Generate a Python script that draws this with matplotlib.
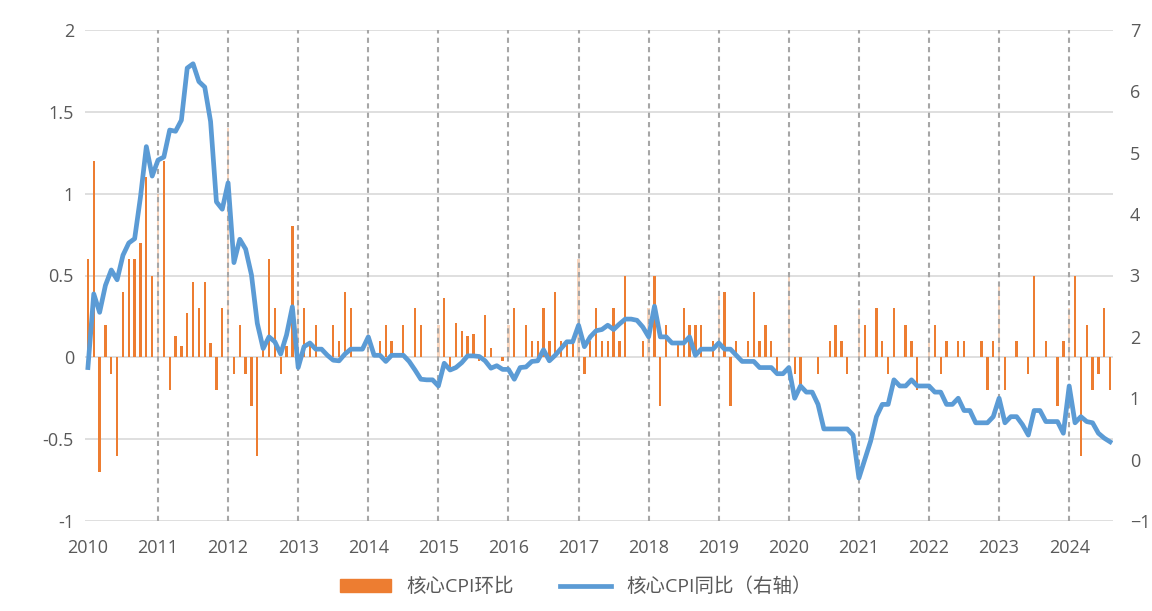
import numpy as np
import matplotlib.pyplot as plt
from matplotlib.patches import Patch
from matplotlib.lines import Line2D
from matplotlib.colors import to_rgba
from matplotlib.ticker import FuncFormatter

plt.rcParams['font.family'] = ['Open Sans', 'Noto Sans CJK SC', 'DejaVu Sans']

# monthly data, 2010-01 .. 2024-08
years = list(range(2010, 2025))

# core CPI month-on-month (left axis)
mom = [
    0.6, 1.2, -0.7, 0.2, -0.1, -0.6, 0.4, 0.6, 0.6, 0.7, 1.1, 0.5,        # 2010
    1.0, 1.2, -0.2, 0.13, 0.07, 0.27, 0.46, 0.3, 0.46, 0.09, -0.2, 0.3,   # 2011
    1.4, -0.1, 0.2, -0.1, -0.3, -0.6, 0.05, 0.6, 0.3, -0.1, 0.07, 0.8,    # 2012
    0.4, 0.3, 0.1, 0.2, 0.0, 0.0, 0.2, 0.1, 0.4, 0.3, 0.0, 0.0,           # 2013
    0.15, 0.0, 0.1, 0.2, 0.1, 0.0, 0.2, 0.0, 0.3, 0.2, 0.0, 0.0,          # 2014
    0.2, 0.36, -0.06, 0.21, 0.16, 0.13, 0.14, -0.02, 0.26, 0.06, 0.0, -0.02,  # 2015
    0.2, 0.3, 0.0, 0.2, 0.1, 0.1, 0.3, 0.1, 0.4, 0.1, 0.1, 0.1,           # 2016
    0.6, -0.1, 0.1, 0.3, 0.1, 0.1, 0.3, 0.1, 0.5, 0.0, 0.0, 0.1,          # 2017
    0.3, 0.5, -0.3, 0.2, 0.0, 0.1, 0.3, 0.2, 0.2, 0.2, 0.0, 0.1,          # 2018
    0.4, 0.4, -0.3, 0.1, 0.0, 0.1, 0.4, 0.1, 0.2, 0.1, -0.1, 0.0,         # 2019
    0.5, -0.1, -0.2, 0.0, 0.0, -0.1, 0.0, 0.1, 0.2, 0.1, -0.1, 0.0,       # 2020
    0.3, 0.2, 0.0, 0.3, 0.1, -0.1, 0.3, 0.0, 0.2, 0.1, -0.2, 0.0,         # 2021
    0.1, 0.2, -0.1, 0.1, 0.0, 0.1, 0.1, 0.0, 0.0, 0.1, -0.2, 0.1,         # 2022
    0.45, -0.2, 0.0, 0.1, 0.0, -0.1, 0.5, 0.0, 0.1, 0.0, -0.3, 0.1,       # 2023
    0.3, 0.5, -0.6, 0.2, -0.2, -0.1, 0.3, -0.2,                           # 2024
]

# core CPI year-on-year (right axis)
yoy = [
    1.5, 2.7, 2.4, 2.84, 3.09, 2.93, 3.33, 3.53, 3.6, 4.28, 5.1, 4.62,    # 2010
    4.88, 4.93, 5.37, 5.35, 5.53, 6.38, 6.45, 6.16, 6.07, 5.51, 4.2, 4.08,  # 2011
    4.51, 3.21, 3.59, 3.43, 3.01, 2.22, 1.81, 2.0, 1.92, 1.72, 2.03, 2.49,  # 2012
    1.5, 1.84, 1.9, 1.8, 1.8, 1.7, 1.62, 1.61, 1.72, 1.8, 1.8, 1.8,       # 2013
    2.0, 1.7, 1.7, 1.6, 1.7, 1.7, 1.7, 1.6, 1.46, 1.31, 1.3, 1.3,         # 2014
    1.2, 1.57, 1.46, 1.5, 1.58, 1.69, 1.69, 1.68, 1.61, 1.49, 1.53, 1.47,  # 2015
    1.47, 1.31, 1.5, 1.51, 1.6, 1.61, 1.79, 1.61, 1.7, 1.81, 1.92, 1.92,  # 2016
    2.19, 1.84, 2.0, 2.1, 2.12, 2.19, 2.12, 2.21, 2.29, 2.29, 2.27, 2.16,  # 2017
    2.0, 2.5, 2.0, 2.0, 1.9, 1.9, 1.9, 2.0, 1.7, 1.8, 1.8, 1.8,           # 2018
    1.9, 1.8, 1.8, 1.7, 1.6, 1.6, 1.6, 1.5, 1.5, 1.5, 1.4, 1.4,           # 2019
    1.5, 1.0, 1.2, 1.1, 1.1, 0.9, 0.5, 0.5, 0.5, 0.5, 0.5, 0.4,           # 2020
    -0.3, 0.0, 0.3, 0.7, 0.9, 0.9, 1.3, 1.2, 1.2, 1.3, 1.2, 1.2,          # 2021
    1.2, 1.1, 1.1, 0.9, 0.9, 1.0, 0.8, 0.8, 0.6, 0.6, 0.6, 0.7,           # 2022
    1.0, 0.6, 0.7, 0.7, 0.57, 0.4, 0.8, 0.8, 0.62, 0.62, 0.62, 0.43,      # 2023
    1.2, 0.6, 0.7, 0.62, 0.6, 0.43, 0.35, 0.29,                           # 2024
]

bar_color = '#ED7D31'
line_color = '#5B9BD5'
text_color = '#595959'

fig = plt.figure(figsize=(11.52, 6.11), dpi=100)
ax = fig.add_axes([85 / 1152, 1 - 521 / 611, (1113 - 85) / 1152, (521 - 30) / 611])

x = np.arange(len(mom))
# january bars sit under the dashed year lines and come out pale
colors = [to_rgba(bar_color, 0.3 if (i % 12 == 0 and i > 0) else 1.0) for i in x]
ax.bar(x, mom, width=0.4, color=colors, zorder=2)

ax.set_xlim(-0.5, len(mom) - 0.5)
ax.set_ylim(-1, 2)
ax.set_yticks(np.arange(-1, 2.01, 0.5))
ax.yaxis.set_major_formatter(FuncFormatter(lambda v, p: f'{v:g}'))
ax.set_xticks(range(0, len(mom), 12))
ax.set_xticklabels([str(y) for y in years])
ax.grid(axis='y', color='#d9d9d9', lw=1.2, zorder=0)
ax.set_axisbelow(True)
for i in range(12, len(mom), 12):
    ax.axvline(i, color='#a6a6a6', ls=(0, (2.5, 2)), lw=1.5, zorder=3)
ax.tick_params(axis='both', length=0, colors=text_color, labelsize=13)
ax.tick_params(axis='y', pad=8)
ax.tick_params(axis='x', pad=13)
for s in ax.spines.values():
    s.set_visible(False)

ax2 = ax.twinx()
ax2.plot(x, yoy, color=line_color, lw=3.4, solid_joinstyle='round', zorder=4)
ax2.set_ylim(-1, 7)
ax2.set_yticks(range(-1, 8))
ax2.tick_params(axis='y', length=0, colors=text_color, labelsize=13, pad=12)
for s in ax2.spines.values():
    s.set_visible(False)

handles = [Patch(color=bar_color), Line2D([], [], color=line_color, lw=3.4)]
fig.legend(handles, ['核心CPI环比', '核心CPI同比（右轴）'], loc='center',
           bbox_to_anchor=(0.5, 1 - 587 / 611), ncol=2, frameon=False,
           fontsize=14, labelcolor=text_color, handlelength=2.6,
           handleheight=0.6, columnspacing=2.4)

fig.savefig('out.png', dpi=100)
